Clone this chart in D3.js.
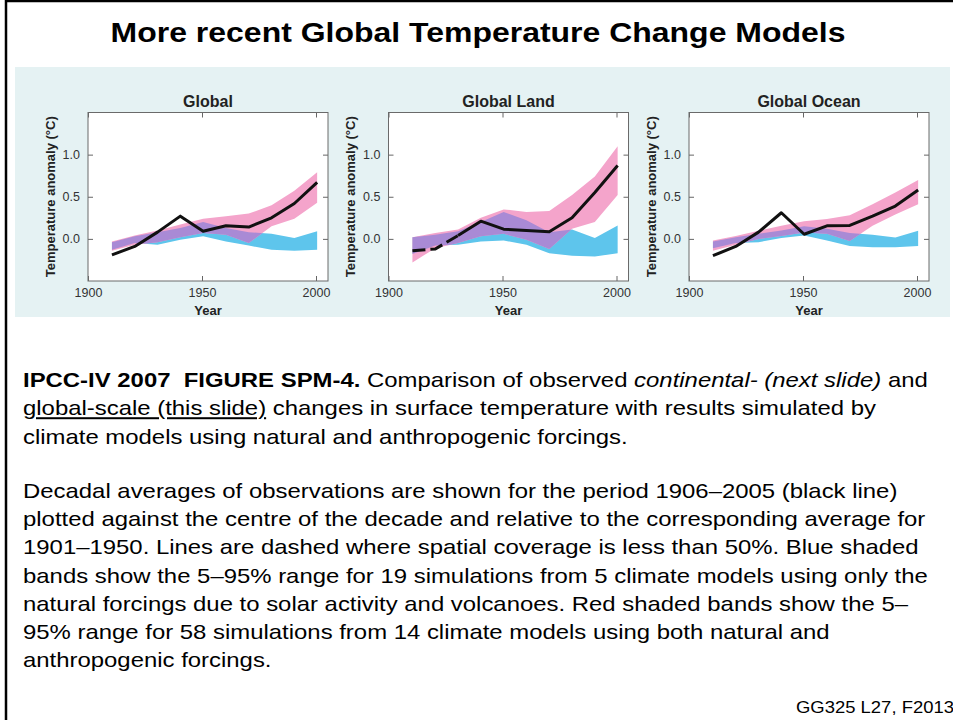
<!DOCTYPE html>
<html>
<head>
<meta charset="utf-8">
<script src="https://cdn.jsdelivr.net/npm/d3@7"></script>
<style>
  body { margin: 0; background: #fff; }
  svg text { font-family: "Liberation Sans", Arial, sans-serif; }
  .axis text { font-size: 12.5px; fill: #333; }
  .axis line { stroke: #666; }
  .axis path { display: none; }
</style>
</head>
<body>
<div id="slide"></div>
<script>
// decade centres (1906-1915 -> 1910.5 ...)
var decades = [1910.5, 1920.5, 1930.5, 1940.5, 1950.5, 1960.5, 1970.5, 1980.5, 1990.5, 2000.5];
var xTicks = [1900, 1950, 2000];
var yTicks = [0, 0.5, 1.0];
var panelNames = ["Global", "Global Land", "Global Ocean"];

// observed decadal anomalies (black line)
var globalObs = [-0.19, -0.09, 0.08, 0.27, 0.09, 0.155, 0.14, 0.25, 0.42, 0.67];
var landObs   = [-0.14, -0.12, 0.04, 0.21, 0.115, 0.10, 0.085, 0.25, 0.55, 0.87];
var oceanObs  = [-0.20, -0.09, 0.08, 0.31, 0.055, 0.155, 0.16, 0.27, 0.39, 0.58];

// natural + anthropogenic forcing, 5-95% (red/pink band)
var globalBothHi = [-0.03, 0.04, 0.10, 0.17, 0.24, 0.27, 0.30, 0.40, 0.57, 0.79];
var globalBothLo = [-0.14, -0.07, -0.04, 0.02, 0.07, 0.05, -0.05, 0.15, 0.24, 0.43];
var landBothHi   = [0.02, 0.07, 0.11, 0.25, 0.35, 0.32, 0.33, 0.52, 0.74, 1.10];
var landBothLo   = [-0.28, -0.11, -0.05, 0.03, 0.06, -0.01, -0.12, 0.12, 0.20, 0.52];
var oceanBothHi  = [-0.02, 0.035, 0.095, 0.155, 0.21, 0.235, 0.28, 0.41, 0.55, 0.70];
var oceanBothLo  = [-0.14, -0.07, 0.0, 0.035, 0.075, 0.06, -0.025, 0.155, 0.29, 0.41];

// natural forcing only, 5-95% (blue band)
var globalNatHi = [-0.04, 0.03, 0.08, 0.13, 0.20, 0.13, 0.08, 0.06, 0.01, 0.09];
var globalNatLo = [-0.13, -0.05, -0.07, -0.01, 0.03, -0.03, -0.08, -0.13, -0.14, -0.13];
var landNatHi   = [0.02, 0.05, 0.09, 0.20, 0.32, 0.22, 0.08, 0.11, 0.01, 0.16];
var landNatLo   = [-0.18, -0.08, -0.07, -0.03, -0.02, -0.07, -0.17, -0.20, -0.21, -0.17];
var oceanNatHi  = [-0.03, 0.02, 0.06, 0.10, 0.15, 0.12, 0.07, 0.05, 0.015, 0.095];
var oceanNatLo  = [-0.11, -0.05, -0.04, 0.01, 0.04, -0.02, -0.085, -0.10, -0.10, -0.085];

// land record is dashed up to this decade (coverage < 50%)
var landDashedTo = 1930.5;

var para1 = [
  [{ t: "IPCC-IV 2007  FIGURE SPM-4.", b: 1 }, { t: " Comparison of observed " }, { t: "continental- (next slide)", i: 1 }, { t: " and" }],
  [{ t: "global-scale (this slide)", u: 1 }, { t: " changes in surface temperature with results simulated by" }],
  [{ t: "climate models using natural and anthropogenic forcings." }]
];
var para2 = [
  "Decadal averages of observations are shown for the period 1906\u20132005 (black line)",
  "plotted against the centre of the decade and relative to the corresponding average for",
  "1901\u20131950. Lines are dashed where spatial coverage is less than 50%. Blue shaded",
  "bands show the 5\u201395% range for 19 simulations from 5 climate models using only the",
  "natural forcings due to solar activity and volcanoes. Red shaded bands show the 5\u2013",
  "95% range for 58 simulations from 14 climate models using both natural and",
  "anthropogenic forcings."
];

var COLORS = { pink: "#f4a4cb", blue: "#5ec5ec", purple: "#a98ad5", panel: "#e5f2f3" };

var panels = [
  { name: panelNames[0], obs: globalObs, bothHi: globalBothHi, bothLo: globalBothLo, natHi: globalNatHi, natLo: globalNatLo, dashedTo: null },
  { name: panelNames[1], obs: landObs, bothHi: landBothHi, bothLo: landBothLo, natHi: landNatHi, natLo: landNatLo, dashedTo: landDashedTo },
  { name: panelNames[2], obs: oceanObs, bothHi: oceanBothHi, bothLo: oceanBothLo, natHi: oceanNatHi, natLo: oceanNatLo, dashedTo: null }
];

var svg = d3.select("#slide").append("svg")
  .attr("width", 953)
  .attr("height", 720);

// slide frame
svg.append("rect")
  .attr("x", 6).attr("y", 1)
  .attr("width", 1000).attr("height", 1000)
  .attr("fill", "none")
  .attr("stroke", "#000")
  .attr("stroke-width", 2.5);

// slide title, squeezed a bit like the original
var title = svg.append("text")
  .attr("text-anchor", "middle")
  .style("font-size", "28px")
  .style("font-weight", "bold")
  .text("More recent Global Temperature Change Models");
var titleSx = 735 / title.node().getComputedTextLength();
title.attr("transform", "translate(478,42) scale(" + titleSx + ",1)");

// figure background
svg.append("rect")
  .attr("x", 15).attr("y", 67)
  .attr("width", 935).attr("height", 250)
  .attr("fill", COLORS.panel);

var frameW = 240, frameH = 168.5, frameTop = 112.5;
var panelLefts = [88, 388.5, 689];

var xScale = d3.scaleLinear().domain([1900, 2005.26]).range([0, frameW]);
var yScale = d3.scaleLinear().domain([-0.5, 1.5]).range([frameH, 0]);

panels.forEach(function(p, idx) {
  var g = svg.append("g")
    .attr("transform", "translate(" + panelLefts[idx] + "," + frameTop + ")");

  g.append("rect")
    .attr("width", frameW).attr("height", frameH)
    .attr("fill", "#fff");

  var band = function(lo, hi) {
    return d3.area()
      .x(function(d, i) { return xScale(decades[i]); })
      .y0(function(d, i) { return yScale(lo[i]); })
      .y1(function(d, i) { return yScale(hi[i]); })(decades);
  };

  var natPath = band(p.natLo, p.natHi);
  var bothPath = band(p.bothLo, p.bothHi);

  g.append("clipPath").attr("id", "nat-clip-" + idx)
    .append("path").attr("d", natPath);

  g.append("path").attr("d", natPath).attr("fill", COLORS.blue);
  g.append("path").attr("d", bothPath).attr("fill", COLORS.pink);
  // overlap of the two bands
  g.append("path").attr("d", bothPath)
    .attr("fill", COLORS.purple)
    .attr("clip-path", "url(#nat-clip-" + idx + ")");

  var pts = decades.map(function(d, i) { return { year: d, value: p.obs[i] }; });
  var line = d3.line()
    .x(function(d) { return xScale(d.year); })
    .y(function(d) { return yScale(d.value); });

  var solid = p.dashedTo ? pts.filter(function(d) { return d.year >= p.dashedTo; }) : pts;
  if (p.dashedTo) {
    g.append("path")
      .attr("d", line(pts.filter(function(d) { return d.year <= p.dashedTo; })))
      .attr("fill", "none")
      .attr("stroke", "#111")
      .attr("stroke-width", 3)
      .attr("stroke-dasharray", "13,5");
  }
  g.append("path")
    .attr("d", line(solid))
    .attr("fill", "none")
    .attr("stroke", "#111")
    .attr("stroke-width", 3)
    .attr("stroke-linejoin", "round");

  // axes, ticks pointing inward on all sides
  g.append("g").attr("class", "axis")
    .call(d3.axisLeft(yScale).tickValues(yTicks).tickSize(-5).tickSizeOuter(0)
      .tickPadding(8).tickFormat(d3.format(".1f")));
  g.append("g").attr("class", "axis")
    .attr("transform", "translate(" + frameW + ",0)")
    .call(d3.axisRight(yScale).tickValues(yTicks).tickSize(-5).tickSizeOuter(0).tickFormat(""));
  g.append("g").attr("class", "axis")
    .attr("transform", "translate(0," + frameH + ")")
    .call(d3.axisBottom(xScale).tickValues(xTicks).tickSize(-5).tickSizeOuter(0)
      .tickPadding(7).tickFormat(d3.format("d")));
  g.append("g").attr("class", "axis")
    .call(d3.axisTop(xScale).tickValues(xTicks).tickSize(-5).tickSizeOuter(0).tickFormat(""));

  g.append("rect")
    .attr("width", frameW).attr("height", frameH)
    .attr("fill", "none")
    .attr("stroke", "#6a6a6a")
    .attr("stroke-width", 1);

  g.append("text")
    .attr("x", frameW / 2).attr("y", -6)
    .attr("text-anchor", "middle")
    .style("font-size", "16px").style("font-weight", "bold")
    .attr("fill", "#222")
    .text(p.name);

  g.append("text")
    .attr("x", frameW / 2).attr("y", frameH + 34)
    .attr("text-anchor", "middle")
    .style("font-size", "13px").style("font-weight", "bold")
    .attr("fill", "#222")
    .text("Year");

  g.append("text")
    .attr("transform", "translate(-38," + (frameH / 2) + ") rotate(-90)")
    .attr("dy", "0.35em")
    .attr("text-anchor", "middle")
    .style("font-size", "13px").style("font-weight", "bold")
    .attr("fill", "#222")
    .text("Temperature anomaly (\u00b0C)");
});

// caption text
var textLeft = 23;
var addLine = function(segments, baseline) {
  var t = svg.append("text")
    .attr("transform", "translate(" + textLeft + "," + baseline + ")")
    .style("font-size", "20px")
    .style("white-space", "pre")
    .attr("fill", "#000");
  segments.forEach(function(s) {
    t.append("tspan")
      .style("font-weight", s.b ? "bold" : null)
      .style("font-style", s.i ? "italic" : null)
      .style("text-decoration", s.u ? "underline" : null)
      .text(s.t);
  });
  return t;
};

var lines = [];
para1.forEach(function(segs, i) { lines.push(addLine(segs, 387 + i * 28.4)); });
para2.forEach(function(str, i) { lines.push(addLine([{ t: str }], 498 + i * 28.2)); });

// original text is slightly condensed; fit one full line to its measured width
var sx = 903 / lines[4].node().getComputedTextLength();
lines.forEach(function(t) {
  t.attr("transform", t.attr("transform") + " scale(" + sx + ",1)");
});

// footer, runs just to the right edge as in the original
var footer = svg.append("text")
  .style("font-size", "17px")
  .attr("fill", "#000")
  .text("GG325 L27, F2013");
var footSx = 158 / footer.node().getComputedTextLength();
footer.attr("transform", "translate(796,713) scale(" + footSx + ",1)");
</script>
</body>
</html>
